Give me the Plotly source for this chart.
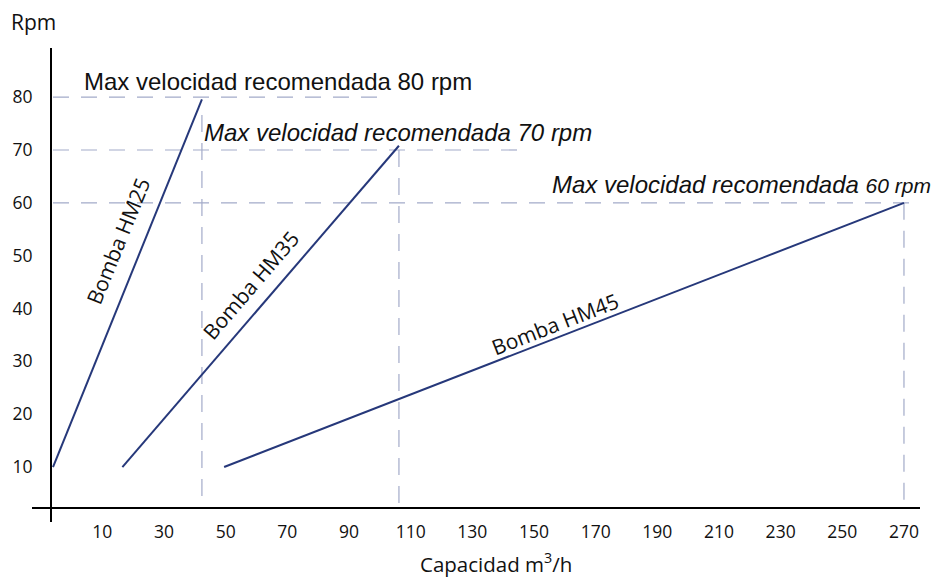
import plotly.graph_objects as go

# ---- data ----
bombas = ["Bomba HM25", "Bomba HM35", "Bomba HM45"]
cap_inicio = [-6.0, 16.5, 49.5]      # m3/h at 10 rpm
cap_fin = [42.3, 106.2, 270.0]       # m3/h at max rpm
rpm_inicio = [10, 10, 10]
rpm_fin = [79.6, 70.8, 60.0]

vel_max = [80, 70, 60]                       # recommended max rpm
vel_max_fin_x = [102.4, 146.0, 275.0]        # where horizontal guide ends
guia_x = [42.3, 106.2, 270.0]                # vertical guides
guia_top = [76.6, 70.0, 60.0]

x_ticks = list(range(10, 271, 20))
y_ticks = [10, 20, 30, 40, 50, 60, 70, 80]

label_x = [15.1, 58.2, 156.8]
label_y = [52.8, 44.4, 37.1]
label_ang = [-67.9, -49.4, -21.3]

# ---- layout geometry (page body has an 8px margin) ----
OFF = 8
W, H = 939 - OFF, 579 - OFF
L, R, T, B = 51 - OFF, 19, 48 - OFF, 71
XR = [-6.65, 275.2]
YR = [2.25, 89.3]
PW, PH = W - L - R, H - T - B

def px(xp):
    return (xp - OFF - L) / PW

def py(yp):
    return (H - B - (yp - OFF)) / PH

LINE = "#26387a"
DASH = "#a3abc9"
TXT = "#111111"

fig = go.Figure()

# dashed guides
for v, xe in zip(vel_max, vel_max_fin_x):
    fig.add_trace(go.Scatter(x=[-6.0, xe], y=[v, v], mode="lines",
                             line=dict(color=DASH, width=1.2, dash="16px,12px"),
                             hoverinfo="skip", showlegend=False))
for gx, gt in zip(guia_x, guia_top):
    fig.add_trace(go.Scatter(x=[gx, gx], y=[gt, YR[0]], mode="lines",
                             line=dict(color=DASH, width=1.2, dash="17px,11px"),
                             hoverinfo="skip", showlegend=False))

# pump lines
for n, x0, x1, y0, y1 in zip(bombas, cap_inicio, cap_fin, rpm_inicio, rpm_fin):
    fig.add_trace(go.Scatter(x=[x0, x1], y=[y0, y1], mode="lines", name=n,
                             line=dict(color=LINE, width=2), showlegend=False))

ann = []
for n, lx, ly, a in zip(bombas, label_x, label_y, label_ang):
    ann.append(dict(x=lx, y=ly, xref="x", yref="y", text=n, showarrow=False,
                    textangle=a, font=dict(family="Open Sans", size=21, color=TXT),
                    xanchor="center", yanchor="middle"))

AF = "Liberation Sans, Arial, sans-serif"
ann.append(dict(x=3.4, y=82.95, xref="x", yref="y", showarrow=False,
                text="Max velocidad recomendada 80 rpm", xanchor="left", yanchor="middle",
                font=dict(family=AF, size=24, color=TXT)))
ann.append(dict(x=42.3, y=73.3, xref="x", yref="y", showarrow=False,
                text="<i>Max velocidad recomendada 70 rpm</i>", xanchor="left", yanchor="middle",
                font=dict(family=AF, size=24, color=TXT)))
ann.append(dict(x=155.3, y=63.4, xref="x", yref="y", showarrow=False,
                text="<i>Max velocidad recomendada <span style='font-size:21px'>60 rpm</span></i>",
                xanchor="left", yanchor="middle",
                font=dict(family=AF, size=24, color=TXT)))

ann.append(dict(x=px(10), y=py(22), xref="paper", yref="paper", showarrow=False,
                text="Rpm", xanchor="left", yanchor="middle", borderpad=0,
                font=dict(family="Open Sans", size=21, color=TXT)))
ann.append(dict(x=px(496), y=py(563), xref="paper", yref="paper", showarrow=False,
                text="Capacidad m<sup>3</sup>/h", xanchor="center", yanchor="middle", borderpad=0,
                font=dict(family="Open Sans", size=20.5, color=TXT)))

shapes = [
    dict(type="line", xref="paper", yref="paper", x0=px(32), x1=px(920), y0=0, y1=0,
         line=dict(color="black", width=2)),
    dict(type="line", xref="paper", yref="paper", x0=0, x1=0, y0=py(522), y1=py(48),
         line=dict(color="black", width=2)),
]

fig.update_layout(
    width=W, height=H,
    margin=dict(l=L, r=R, t=T, b=B, pad=0, autoexpand=False),
    paper_bgcolor="white", plot_bgcolor="white",
    annotations=ann, shapes=shapes,
    xaxis=dict(range=XR, tickvals=x_ticks, ticktext=[str(v) for v in x_ticks],
               automargin=False,
               showgrid=False, zeroline=False, showline=False,
               ticks="outside", ticklen=8, tickcolor="rgba(0,0,0,0)",
               tickfont=dict(family="Open Sans", size=17.5, color=TXT)),
    yaxis=dict(range=YR, tickvals=y_ticks, ticktext=[str(v) for v in y_ticks],
               automargin=False,
               showgrid=False, zeroline=False, showline=False,
               ticks="outside", ticklen=14, tickcolor="rgba(0,0,0,0)",
               tickfont=dict(family="Open Sans", size=17.5, color=TXT)),
)

fig.write_html("out.html")
